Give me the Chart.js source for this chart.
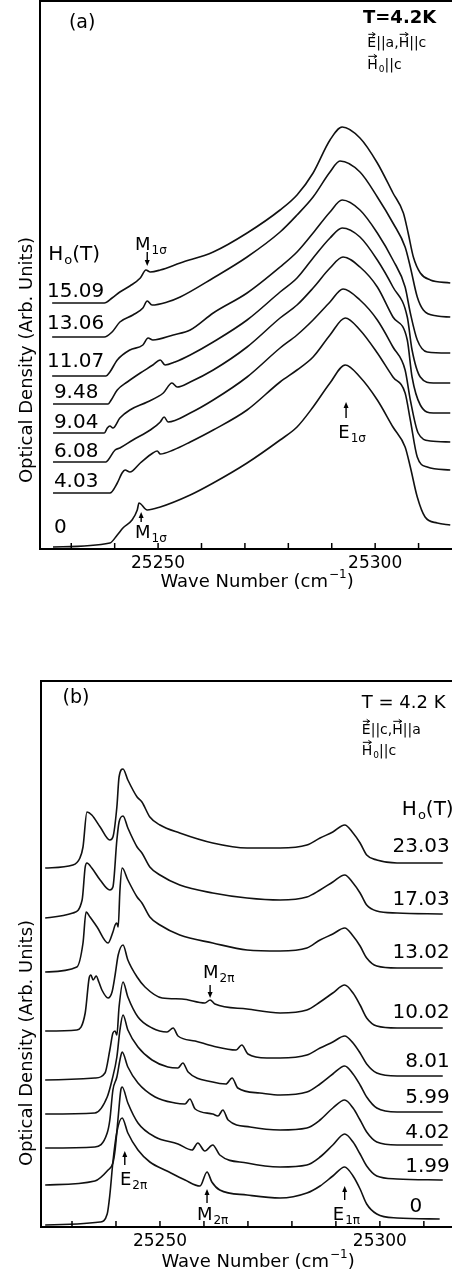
<!DOCTYPE html>
<html>
<head>
<meta charset="utf-8">
<script src="https://cdn.jsdelivr.net/npm/chart.js@4/dist/chart.umd.min.js"></script>
<style>
  html, body { margin: 0; padding: 0; background: #fff; }
  body { width: 452px; height: 1275px; position: relative; overflow: hidden; }
  canvas { position: absolute; left: 0; }
  #chartA { top: 0; }
  #chartB { top: 640px; }
</style>
</head>
<body>
<canvas id="chartA" width="452" height="600"></canvas>
<canvas id="chartB" width="452" height="635"></canvas>
<script>
// Panel (a): sigma spectra, E||a, H||c, one trace per field (wave number, optical density)
const fieldsA = ["15.09", "13.06", "11.07", "9.48", "9.04", "6.08", "4.03", "0"];
const specA_15_09 = [[25225.6,2.46],[25237.6,2.46],[25239.4,2.51],[25241.2,2.57],[25243.5,2.63],[25245.9,2.71],[25247.2,2.79],[25248.2,2.77],[25250.5,2.79],[25255.1,2.86],[25262.7,2.97],[25270.5,3.16],[25278.1,3.39],[25282.0,3.54],[25285.7,3.76],[25289.6,4.09],[25292.4,4.22],[25296.5,4.11],[25300.5,3.86],[25304.1,3.56],[25306.5,3.36],[25307.6,3.16],[25308.8,2.92],[25310.4,2.76],[25312.7,2.69],[25317.3,2.66]];
const specA_13_06 = [[25225.6,2.12],[25237.6,2.12],[25239.4,2.17],[25241.2,2.27],[25244.2,2.34],[25246.5,2.41],[25247.5,2.48],[25248.6,2.44],[25252.1,2.47],[25255.1,2.52],[25262.7,2.71],[25270.5,2.92],[25278.1,3.17],[25282.0,3.34],[25285.7,3.52],[25289.6,3.77],[25291.9,3.88],[25296.5,3.77],[25300.5,3.52],[25304.1,3.26],[25306.9,3.02],[25308.1,2.82],[25309.7,2.52],[25311.1,2.39],[25314.3,2.33],[25317.3,2.32]];
const specA_11_07 = [[25225.6,1.73],[25238.0,1.73],[25238.9,1.77],[25240.6,1.89],[25243.5,1.99],[25246.5,2.04],[25247.7,2.11],[25248.8,2.09],[25253.5,2.14],[25257.4,2.19],[25262.7,2.36],[25270.5,2.56],[25278.1,2.82],[25282.0,2.97],[25285.7,3.16],[25289.6,3.37],[25292.4,3.49],[25296.5,3.39],[25300.5,3.16],[25304.1,2.89],[25306.9,2.62],[25308.1,2.36],[25309.7,2.09],[25312.0,1.97],[25317.3,1.96]];
const specA_9_48 = [[25225.8,1.45],[25238.5,1.45],[25239.2,1.49],[25240.6,1.59],[25242.9,1.67],[25245.9,1.76],[25248.8,1.84],[25250.5,1.89],[25251.6,1.84],[25253.9,1.87],[25257.4,1.94],[25262.7,2.07],[25270.5,2.29],[25278.1,2.57],[25282.0,2.71],[25285.7,2.91],[25289.6,3.11],[25292.4,3.21],[25296.5,3.12],[25300.5,2.89],[25304.1,2.62],[25307.4,2.32],[25308.5,1.99],[25310.4,1.72],[25313.4,1.66],[25317.3,1.66]];
const specA_9_04 = [[25225.8,1.16],[25237.6,1.16],[25238.3,1.21],[25238.9,1.23],[25239.6,1.21],[25241.2,1.31],[25243.5,1.39],[25247.5,1.47],[25251.2,1.56],[25253.2,1.66],[25254.4,1.62],[25257.4,1.67],[25262.7,1.79],[25270.5,2.02],[25278.1,2.31],[25282.0,2.44],[25285.7,2.61],[25289.6,2.81],[25292.6,2.92],[25296.5,2.82],[25300.5,2.62],[25304.1,2.32],[25307.4,2.09],[25308.5,1.72],[25310.4,1.44],[25313.4,1.36],[25317.3,1.36]];
const specA_6_08 = [[25225.8,0.87],[25238.0,0.87],[25238.5,0.89],[25240.1,0.99],[25241.2,1.01],[25244.2,1.09],[25248.2,1.19],[25250.5,1.27],[25251.4,1.32],[25252.3,1.27],[25257.4,1.36],[25262.7,1.49],[25270.5,1.72],[25278.1,2.01],[25282.0,2.14],[25285.7,2.29],[25289.6,2.47],[25292.6,2.60],[25296.5,2.49],[25300.5,2.29],[25304.1,2.02],[25306.9,1.79],[25308.1,1.49],[25309.9,1.16],[25312.7,1.08],[25317.3,1.07]];
const specA_4_03 = [[25225.8,0.56],[25238.9,0.56],[25240.6,0.66],[25241.7,0.76],[25242.4,0.79],[25243.5,0.77],[25245.9,0.86],[25248.8,0.96],[25249.8,0.98],[25250.5,0.95],[25253.5,0.99],[25257.4,1.07],[25262.7,1.19],[25270.5,1.39],[25278.1,1.67],[25282.0,1.79],[25285.7,1.92],[25289.6,2.14],[25293.1,2.31],[25296.5,2.19],[25300.5,1.96],[25304.1,1.72],[25306.9,1.56],[25308.1,1.29],[25309.7,0.92],[25312.0,0.82],[25317.3,0.79]];
const specA_0 = [[25225.8,0.02],[25238.9,0.06],[25240.6,0.14],[25241.9,0.21],[25244.0,0.29],[25245.2,0.39],[25245.6,0.46],[25247.5,0.39],[25250.5,0.42],[25257.4,0.54],[25262.7,0.66],[25270.5,0.86],[25278.1,1.09],[25282.0,1.22],[25285.7,1.42],[25289.6,1.66],[25293.1,1.84],[25296.5,1.72],[25300.5,1.49],[25304.1,1.22],[25306.9,1.02],[25308.1,0.82],[25309.7,0.52],[25311.5,0.32],[25314.3,0.26],[25317.3,0.24]];

// Panel (b): pi spectra, E||c, H||a
const fieldsB = ["23.03", "17.03", "13.02", "10.02", "8.01", "5.99", "4.02", "1.99", "0"];
const specB_23_03 = [[25223.9,3.59],[25230.2,3.62],[25231.8,3.69],[25232.5,3.80],[25233.4,4.15],[25234.5,4.12],[25236.4,4.00],[25238.6,3.87],[25239.3,3.90],[25240.2,4.20],[25240.7,4.50],[25241.6,4.58],[25242.7,4.47],[25244.8,4.30],[25245.9,4.25],[25247.7,4.10],[25250.0,4.02],[25254.5,3.94],[25262.0,3.84],[25269.8,3.79],[25277.3,3.79],[25283.4,3.82],[25286.4,3.89],[25289.3,3.95],[25292.0,4.02],[25293.9,3.94],[25295.5,3.84],[25297.0,3.72],[25299.3,3.67],[25303.9,3.64],[25314.3,3.64]];
const specB_17_03 = [[25223.9,3.09],[25230.2,3.14],[25232.3,3.27],[25233.0,3.60],[25233.4,3.64],[25234.5,3.59],[25236.4,3.47],[25238.6,3.37],[25239.3,3.40],[25240.2,3.87],[25240.7,4.05],[25241.6,4.11],[25242.7,3.99],[25244.8,3.80],[25245.9,3.74],[25247.7,3.60],[25250.0,3.52],[25254.5,3.42],[25262.0,3.34],[25269.8,3.29],[25277.3,3.27],[25283.4,3.30],[25286.4,3.37],[25289.3,3.45],[25292.0,3.52],[25293.9,3.44],[25295.5,3.34],[25297.0,3.22],[25299.3,3.16],[25303.9,3.14],[25314.3,3.13]];
const specB_13_02 = [[25223.9,2.55],[25231.1,2.60],[25232.5,2.84],[25233.2,3.15],[25234.1,3.10],[25235.7,3.00],[25238.2,2.84],[25239.3,2.95],[25239.8,3.02],[25240.2,3.04],[25240.5,3.00],[25240.9,3.37],[25241.4,3.59],[25242.7,3.47],[25244.8,3.30],[25245.9,3.24],[25247.7,3.10],[25250.0,3.02],[25254.5,2.92],[25262.0,2.84],[25269.8,2.77],[25277.3,2.76],[25283.4,2.79],[25286.4,2.87],[25289.3,2.93],[25292.0,2.99],[25293.9,2.91],[25295.5,2.81],[25297.0,2.69],[25299.3,2.61],[25303.9,2.59],[25314.3,2.59]];
const specB_10_02 = [[25223.9,1.96],[25231.1,1.97],[25233.0,2.14],[25233.9,2.49],[25234.3,2.52],[25234.8,2.47],[25235.5,2.51],[25236.1,2.45],[25236.8,2.37],[25238.2,2.29],[25239.1,2.35],[25239.8,2.52],[25240.5,2.72],[25241.6,2.82],[25242.7,2.67],[25244.8,2.50],[25246.6,2.40],[25250.5,2.29],[25255.0,2.28],[25260.2,2.24],[25261.4,2.27],[25262.5,2.23],[25269.8,2.18],[25277.3,2.14],[25283.4,2.17],[25286.4,2.25],[25289.3,2.34],[25292.0,2.42],[25293.9,2.34],[25295.5,2.22],[25297.0,2.09],[25299.3,2.01],[25303.9,1.99],[25314.3,1.99]];
const specB_8_01 = [[25223.9,1.47],[25235.2,1.49],[25237.5,1.54],[25238.6,1.77],[25239.3,1.94],[25239.8,1.96],[25240.2,1.92],[25240.7,2.20],[25241.6,2.45],[25242.7,2.30],[25245.0,2.10],[25248.2,1.99],[25251.6,1.95],[25253.0,1.99],[25254.1,1.91],[25258.0,1.86],[25262.0,1.81],[25267.3,1.77],[25268.6,1.82],[25270.0,1.73],[25274.3,1.69],[25277.3,1.69],[25283.4,1.72],[25286.4,1.79],[25289.3,1.85],[25292.0,1.91],[25293.9,1.84],[25295.5,1.74],[25297.0,1.63],[25299.3,1.54],[25303.9,1.51],[25314.3,1.51]];
const specB_5_99 = [[25223.9,1.13],[25235.2,1.14],[25238.0,1.30],[25239.1,1.47],[25240.2,1.70],[25240.9,1.97],[25241.6,2.12],[25242.7,1.97],[25245.0,1.80],[25248.2,1.67],[25251.8,1.60],[25254.1,1.59],[25255.2,1.64],[25256.4,1.55],[25262.0,1.45],[25265.0,1.43],[25266.4,1.49],[25267.7,1.39],[25272.7,1.34],[25277.3,1.32],[25283.4,1.35],[25286.4,1.43],[25289.3,1.53],[25292.0,1.61],[25293.9,1.53],[25295.5,1.42],[25297.0,1.30],[25299.3,1.19],[25303.9,1.15],[25314.3,1.15]];
const specB_4_02 = [[25223.9,0.79],[25235.2,0.80],[25238.0,0.94],[25238.6,1.07],[25239.3,1.37],[25240.2,1.50],[25240.9,1.67],[25241.4,1.75],[25242.7,1.60],[25245.0,1.44],[25248.9,1.30],[25253.4,1.24],[25255.7,1.23],[25256.8,1.28],[25258.0,1.18],[25262.0,1.13],[25263.2,1.11],[25264.3,1.17],[25265.5,1.07],[25270.5,1.00],[25277.3,0.97],[25283.4,0.99],[25286.4,1.07],[25289.3,1.19],[25292.0,1.27],[25293.9,1.19],[25295.5,1.07],[25297.0,0.95],[25299.3,0.85],[25303.9,0.82],[25314.3,0.82]];
const specB_1_99 = [[25223.9,0.42],[25235.2,0.46],[25238.2,0.57],[25239.3,0.64],[25239.8,0.77],[25240.5,1.10],[25241.1,1.37],[25241.4,1.40],[25242.7,1.24],[25245.0,1.04],[25248.9,0.90],[25254.1,0.83],[25257.3,0.77],[25258.6,0.84],[25260.2,0.76],[25262.0,0.82],[25263.6,0.72],[25269.8,0.64],[25277.3,0.60],[25283.4,0.62],[25286.4,0.70],[25289.3,0.82],[25292.0,0.93],[25293.9,0.85],[25295.5,0.73],[25297.0,0.61],[25299.3,0.51],[25303.9,0.48],[25314.3,0.47]];
const specB_0 = [[25223.9,0.02],[25236.4,0.05],[25238.0,0.13],[25238.6,0.32],[25239.3,0.65],[25240.2,0.95],[25241.4,1.09],[25242.7,0.94],[25245.0,0.77],[25247.7,0.65],[25251.6,0.56],[25255.7,0.47],[25259.1,0.41],[25260.7,0.55],[25261.8,0.45],[25263.6,0.37],[25269.8,0.32],[25277.3,0.29],[25283.4,0.34],[25286.4,0.41],[25289.3,0.51],[25292.0,0.60],[25293.9,0.51],[25295.5,0.38],[25297.0,0.23],[25299.3,0.13],[25303.9,0.09],[25313.6,0.08]];

// axis ticks (every 10 cm-1, labelled every 50)
const waveTicks = [25230, 25240, 25250, 25260, 25270, 25280, 25290, 25300, 25310];
const labeledTicks = [25250, 25300];

const FONT = "'DejaVu Sans', sans-serif";

// text and arrows, anchored in data units of each panel
const notesA = [
  { parts: [{ t: "(a)" }], x: 25232.5, y: 5.26, size: 19, align: "center" },
  { parts: [{ t: "T=4.2K" }], x: 25297.2, y: 5.31, size: 18, bold: true },
  { parts: [{ t: "E", vec: true }, { t: "||a," }, { t: "H", vec: true }, { t: "||c" }], x: 25298.2, y: 5.06, size: 14 },
  { parts: [{ t: "H", vec: true, sub: "0" }, { t: "||c" }], x: 25298.2, y: 4.84, size: 14 },
  { parts: [{ t: "H", sub: "o" }, { t: "(T)" }], x: 25224.7, y: 2.94, size: 20 },
  { parts: [{ t: fieldsA[0] }], x: 25224.4, y: 2.57, size: 20 },
  { parts: [{ t: fieldsA[1] }], x: 25224.4, y: 2.25, size: 20 },
  { parts: [{ t: fieldsA[2] }], x: 25224.4, y: 1.87, size: 20 },
  { parts: [{ t: fieldsA[3] }], x: 25226.0, y: 1.56, size: 20 },
  { parts: [{ t: fieldsA[4] }], x: 25226.0, y: 1.26, size: 20 },
  { parts: [{ t: fieldsA[5] }], x: 25226.0, y: 0.97, size: 20 },
  { parts: [{ t: fieldsA[6] }], x: 25226.0, y: 0.67, size: 20 },
  { parts: [{ t: fieldsA[7] }], x: 25226.0, y: 0.21, size: 20 },
  { parts: [{ t: "M", sub: "1σ" }], x: 25244.7, y: 3.04, size: 18 },
  { arrow: true, x: 25247.5, from: 2.97, to: 2.83 },
  { arrow: true, x: 25246.1, from: 0.27, to: 0.37 },
  { parts: [{ t: "M", sub: "1σ" }], x: 25244.7, y: 0.16, size: 18 },
  { arrow: true, x: 25293.3, from: 1.31, to: 1.47 },
  { parts: [{ t: "E", sub: "1σ" }], x: 25291.5, y: 1.16, size: 18 },
  { parts: [{ t: "Wave Number (", }, { t: "cm", sup: "−1" }, { t: ")" }], x: 25272.8, y: -0.33, size: 18, align: "center" },
  { parts: [{ t: "Optical Density (Arb. Units)" }], x: 25219.8, y: 1.89, size: 18, align: "center", rotate: true }
];

const notesB = [
  { parts: [{ t: "(b)" }], x: 25230.9, y: 5.29, size: 19, align: "center" },
  { parts: [{ t: "T = 4.2 K" }], x: 25295.9, y: 5.24, size: 18 },
  { parts: [{ t: "E", vec: true }, { t: "||c," }, { t: "H", vec: true }, { t: "||a" }], x: 25295.9, y: 4.97, size: 14 },
  { parts: [{ t: "H", vec: true, sub: "0" }, { t: "||c" }], x: 25295.9, y: 4.76, size: 14 },
  { parts: [{ t: "H", sub: "o" }, { t: "(T)" }], x: 25305.0, y: 4.17, size: 20 },
  { parts: [{ t: fieldsB[0] }], x: 25315.9, y: 3.80, size: 20, align: "right" },
  { parts: [{ t: fieldsB[1] }], x: 25315.9, y: 3.27, size: 20, align: "right" },
  { parts: [{ t: fieldsB[2] }], x: 25315.9, y: 2.74, size: 20, align: "right" },
  { parts: [{ t: fieldsB[3] }], x: 25315.9, y: 2.14, size: 20, align: "right" },
  { parts: [{ t: fieldsB[4] }], x: 25315.9, y: 1.65, size: 20, align: "right" },
  { parts: [{ t: fieldsB[5] }], x: 25315.9, y: 1.29, size: 20, align: "right" },
  { parts: [{ t: fieldsB[6] }], x: 25315.9, y: 0.94, size: 20, align: "right" },
  { parts: [{ t: fieldsB[7] }], x: 25315.9, y: 0.60, size: 20, align: "right" },
  { parts: [{ t: fieldsB[8] }], x: 25308.2, y: 0.20, size: 20, align: "center" },
  { parts: [{ t: "M", sub: "2π" }], x: 25259.8, y: 2.54, size: 18 },
  { arrow: true, x: 25261.4, from: 2.42, to: 2.29 },
  { arrow: true, x: 25242.0, from: 0.62, to: 0.76 },
  { parts: [{ t: "E", sub: "2π" }], x: 25240.9, y: 0.47, size: 18 },
  { arrow: true, x: 25260.7, from: 0.24, to: 0.38 },
  { parts: [{ t: "M", sub: "2π" }], x: 25258.4, y: 0.12, size: 18 },
  { arrow: true, x: 25292.0, from: 0.27, to: 0.41 },
  { parts: [{ t: "E", sub: "1π" }], x: 25289.3, y: 0.12, size: 18 },
  { parts: [{ t: "Wave Number (", }, { t: "cm", sup: "−1" }, { t: ")" }], x: 25272.3, y: -0.35, size: 18, align: "center" },
  { parts: [{ t: "Optical Density (Arb. Units)" }], x: 25219.8, y: 1.84, size: 18, align: "center", rotate: true }
];

function fontOf(size, bold) {
  return (bold ? "bold " : "") + size + "px " + FONT;
}

function partWidth(ctx, p, size, bold) {
  ctx.font = fontOf(size, bold);
  let w = ctx.measureText(p.t).width;
  if (p.sub || p.sup) {
    ctx.font = fontOf(Math.round(size * 0.65), bold);
    w += ctx.measureText(p.sub || p.sup).width + 1;
  }
  return w;
}

function drawRich(ctx, px, py, note) {
  const size = note.size, bold = note.bold;
  const total = note.parts.reduce((s, p) => s + partWidth(ctx, p, size, bold), 0);
  ctx.save();
  ctx.translate(px, py);
  if (note.rotate) ctx.rotate(-Math.PI / 2);
  let x = 0;
  if (note.align === "center") x = -total / 2;
  else if (note.align === "right") x = -total;
  ctx.textBaseline = "middle";
  ctx.textAlign = "left";
  note.parts.forEach(p => {
    ctx.font = fontOf(size, bold);
    const w = ctx.measureText(p.t).width;
    ctx.fillText(p.t, x, 0);
    if (p.vec) {
      // little arrow above vector symbols
      const ya = -size * 0.62;
      ctx.lineWidth = 1;
      ctx.beginPath();
      ctx.moveTo(x + 1, ya); ctx.lineTo(x + w - 1, ya);
      ctx.moveTo(x + w - 4, ya - 2); ctx.lineTo(x + w - 1, ya); ctx.lineTo(x + w - 4, ya + 2);
      ctx.stroke();
    }
    x += w;
    if (p.sub || p.sup) {
      const small = Math.round(size * 0.65);
      ctx.font = fontOf(small, bold);
      const dy = p.sub ? size * 0.3 : -size * 0.38;
      ctx.fillText(p.sub || p.sup, x + 1, dy);
      x += ctx.measureText(p.sub || p.sup).width + 1;
    }
  });
  ctx.restore();
}

function drawArrow(ctx, x0, y0, y1) {
  const dir = y1 > y0 ? 1 : -1;
  ctx.lineWidth = 1.4;
  ctx.beginPath();
  ctx.moveTo(x0, y0);
  ctx.lineTo(x0, y1 - dir * 4);
  ctx.stroke();
  ctx.beginPath();
  ctx.moveTo(x0, y1);
  ctx.lineTo(x0 - 2.5, y1 - dir * 6);
  ctx.lineTo(x0 + 2.5, y1 - dir * 6);
  ctx.closePath();
  ctx.fill();
}

// frame, inward ticks and the figure's lettering
const figureText = {
  id: "figureText",
  afterDraw(chart, args, opts) {
    const ctx = chart.ctx, xs = chart.scales.x, ys = chart.scales.y, area = chart.chartArea;
    ctx.save();
    ctx.strokeStyle = "#000";
    ctx.fillStyle = "#000";
    ctx.lineWidth = 2;
    ctx.beginPath();
    ctx.moveTo(area.right, area.top);
    ctx.lineTo(area.left, area.top);
    ctx.lineTo(area.left, area.bottom);
    ctx.lineTo(area.right, area.bottom);
    ctx.stroke();
    ctx.lineWidth = 1.5;
    xs.ticks.forEach(t => {
      const px = xs.getPixelForValue(t.value);
      ctx.beginPath();
      ctx.moveTo(px, area.bottom);
      ctx.lineTo(px, area.bottom - 6);
      ctx.stroke();
    });
    (opts.notes || []).forEach(n => {
      if (n.arrow) {
        drawArrow(ctx, xs.getPixelForValue(n.x), ys.getPixelForValue(n.from), ys.getPixelForValue(n.to));
      } else {
        drawRich(ctx, xs.getPixelForValue(n.x), ys.getPixelForValue(n.y), n);
      }
    });
    ctx.restore();
  }
};

function traces(list) {
  return list.map(d => ({
    data: d,
    borderColor: "#111",
    borderWidth: 1.6,
    pointRadius: 0,
    fill: false,
    cubicInterpolationMode: "monotone"
  }));
}

function panelOptions(xMin, xMax, yMax, pad, axisHeight, notes) {
  return {
    responsive: false,
    animation: false,
    layout: { padding: pad },
    plugins: {
      legend: { display: false },
      tooltip: { enabled: false },
      figureText: { notes: notes }
    },
    scales: {
      x: {
        type: "linear",
        min: xMin,
        max: xMax,
        afterBuildTicks: s => { s.ticks = waveTicks.map(v => ({ value: v })); },
        afterFit: s => { s.height = axisHeight; },
        grid: { display: false, drawTicks: false },
        border: { display: false },
        ticks: {
          autoSkip: false,
          maxRotation: 0,
          padding: 4,
          color: "#000",
          font: { family: FONT, size: 17 },
          callback: v => labeledTicks.includes(v) ? String(v) : ""
        }
      },
      y: { display: false, min: 0, max: yMax }
    }
  };
}

new Chart(document.getElementById("chartA").getContext("2d"), {
  type: "line",
  data: {
    datasets: traces([specA_15_09, specA_13_06, specA_11_07, specA_9_48, specA_9_04, specA_6_08, specA_4_03, specA_0])
  },
  options: panelOptions(25222.8, 25317.7, 5.48, { left: 40, top: 1, right: 0, bottom: 0 }, 51, notesA),
  plugins: [figureText]
});

new Chart(document.getElementById("chartB").getContext("2d"), {
  type: "line",
  data: {
    datasets: traces([specB_23_03, specB_17_03, specB_13_02, specB_10_02, specB_8_01, specB_5_99, specB_4_02, specB_1_99, specB_0])
  },
  options: panelOptions(25222.95, 25316.4, 5.46, { left: 41, top: 41, right: 0, bottom: 0 }, 48, notesB),
  plugins: [figureText]
});
</script>
</body>
</html>
